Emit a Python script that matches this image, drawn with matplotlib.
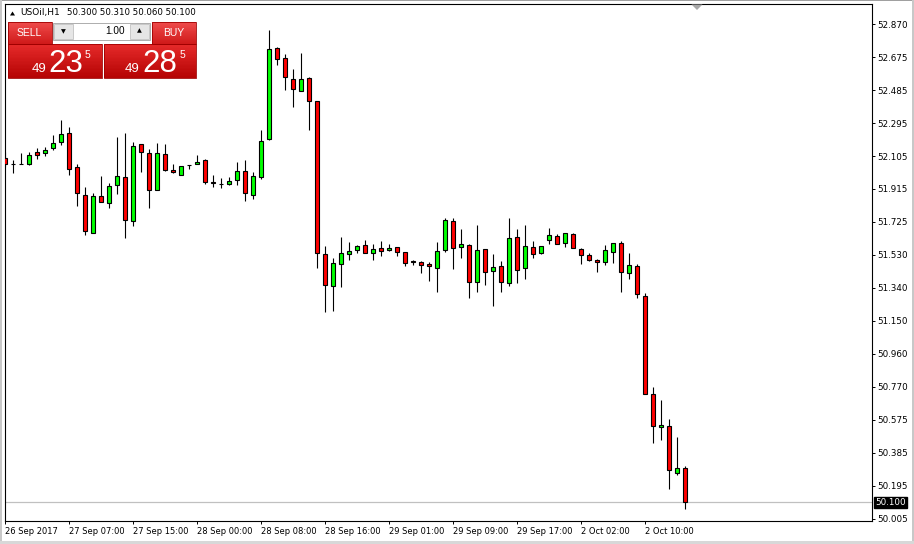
import numpy as np
import matplotlib.pyplot as plt
from matplotlib.patches import Rectangle, Polygon
from matplotlib.transforms import blended_transform_factory

# USOil H1 candles (open, high, low, close)
opens = [52.092, 52.058, 52.059, 52.061, 52.127, 52.121, 52.150, 52.185, 52.237, 52.040,
         51.878, 51.658, 51.872, 51.832, 51.936, 51.982, 51.728, 52.173, 52.121, 51.907,
         52.116, 52.026, 51.994, 52.052, 52.058, 52.081, 51.957, 51.944, 51.942, 51.965,
         52.017, 51.878, 51.982, 52.202, 52.729, 52.671, 52.550, 52.480, 52.556, 52.424,
         51.537, 51.351, 51.479, 51.537, 51.560, 51.589, 51.542, 51.571, 51.560, 51.577,
         51.548, 51.498, 51.490, 51.479, 51.455, 51.560, 51.728, 51.577, 51.589, 51.374,
         51.565, 51.438, 51.467, 51.369, 51.635, 51.455, 51.577, 51.542, 51.618, 51.641,
         51.600, 51.652, 51.565, 51.531, 51.502, 51.490, 51.548, 51.600, 51.426, 51.467,
         51.293, 50.729, 50.535, 50.541, 50.268, 50.300]
highs = [52.127, 52.083, 52.125, 52.127, 52.152, 52.156, 52.227, 52.314, 52.274, 52.059,
         51.926, 51.891, 51.990, 51.949, 52.216, 52.239, 52.185, 52.173, 52.146, 52.181,
         52.175, 52.059, 52.046, 52.052, 52.111, 52.087, 51.994, 51.977, 51.984, 52.071,
         52.083, 52.011, 52.256, 52.835, 52.735, 52.696, 52.609, 52.702, 52.562, 52.424,
         51.585, 51.513, 51.637, 51.608, 51.590, 51.618, 51.596, 51.612, 51.594, 51.577,
         51.548, 51.503, 51.496, 51.490, 51.606, 51.745, 51.745, 51.681, 51.594, 51.704,
         51.565, 51.537, 51.496, 51.745, 51.681, 51.704, 51.612, 51.583, 51.687, 51.652,
         51.658, 51.658, 51.571, 51.542, 51.507, 51.589, 51.600, 51.612, 51.542, 51.479,
         51.314, 50.766, 50.693, 50.581, 50.480, 50.310]
lows = [52.044, 52.009, 52.059, 52.055, 52.090, 52.104, 52.140, 52.169, 51.996, 51.818,
        51.650, 51.658, 51.838, 51.806, 51.886, 51.629, 51.702, 52.015, 51.806, 51.907,
        52.021, 52.006, 51.994, 52.032, 52.058, 51.945, 51.928, 51.922, 51.936, 51.936,
        51.843, 51.855, 51.971, 52.196, 52.634, 52.490, 52.391, 52.480, 52.258, 51.459,
        51.204, 51.210, 51.349, 51.502, 51.542, 51.542, 51.502, 51.525, 51.554, 51.525,
        51.467, 51.473, 51.426, 51.380, 51.316, 51.548, 51.450, 51.513, 51.282, 51.316,
        51.357, 51.235, 51.316, 51.351, 51.369, 51.392, 51.513, 51.537, 51.594, 51.594,
        51.577, 51.571, 51.479, 51.496, 51.432, 51.473, 51.484, 51.316, 51.392, 51.282,
        50.726, 50.446, 50.463, 50.179, 50.257, 50.060]
closes = [52.058, 52.057, 52.060, 52.111, 52.110, 52.139, 52.179, 52.231, 52.029, 51.890,
          51.670, 51.872, 51.838, 51.930, 51.988, 51.735, 52.162, 52.127, 51.907, 52.121,
          52.026, 52.015, 52.046, 52.051, 52.069, 51.957, 51.948, 51.943, 51.959, 52.017,
          51.890, 51.988, 52.191, 52.724, 52.666, 52.561, 52.492, 52.550, 52.422, 51.542,
          51.357, 51.484, 51.542, 51.554, 51.583, 51.542, 51.565, 51.554, 51.571, 51.548,
          51.484, 51.490, 51.473, 51.467, 51.554, 51.733, 51.571, 51.594, 51.374, 51.560,
          51.432, 51.461, 51.374, 51.629, 51.444, 51.583, 51.537, 51.583, 51.647, 51.594,
          51.658, 51.571, 51.531, 51.502, 51.490, 51.560, 51.600, 51.432, 51.473, 51.305,
          50.729, 50.541, 50.546, 50.286, 50.297, 50.100]

time_tick_bars = [0, 8, 16, 24, 32, 40, 48, 56, 64, 72, 80]
time_tick_labels = ['26 Sep 2017', '27 Sep 07:00', '27 Sep 15:00', '28 Sep 00:00',
                    '28 Sep 08:00', '28 Sep 16:00', '29 Sep 01:00', '29 Sep 09:00',
                    '29 Sep 17:00', '2 Oct 02:00', '2 Oct 10:00']
price_labels = ['52.870', '52.675', '52.485', '52.295', '52.105', '51.915', '51.725', '51.530',
                '51.340', '51.150', '50.960', '50.770', '50.575', '50.385', '50.195', '50.005']
price_ticks = 52.870 - np.arange(len(price_labels)) * 0.19107
last_price = 50.100

W, H = 914, 544
fig = plt.figure(figsize=(W / 100, H / 100), dpi=100)
fig.patch.set_facecolor('white')
ax = fig.add_axes([4.5 / W, 1 - 521 / H, (872 - 4.5) / W, (521 - 4) / H])

o = np.array(opens)
c = np.array(closes)
x = np.arange(len(o))
up = c >= o
colors = np.where(up, '#00ff00', '#ff0000')

ax.vlines(x, lows, highs, color='black', lw=0.8, zorder=2)
ax.bar(x, np.abs(c - o), bottom=np.minimum(o, c), width=0.5, color=colors,
       edgecolor='black', linewidth=0.8, zorder=3)

ax.axhline(last_price, color='#c0c0c0', lw=0.9, zorder=1)

ax.set_xlim(-0.1, 108.34)
ax.set_ylim(49.992, 52.986)

ax.yaxis.tick_right()
ax.set_yticks(price_ticks)
ax.set_yticklabels(price_labels)
ax.set_xticks(time_tick_bars)
ax.set_xticklabels(time_tick_labels)
plt.setp(ax.get_xticklabels(), ha='left')
ax.tick_params(axis='y', direction='out', length=2.3, width=0.7, pad=1.5, labelsize=6.3)
ax.tick_params(axis='x', direction='out', length=2.3, width=0.7, pad=2.0, labelsize=6.0)
for sp in ax.spines.values():
    sp.set_color('black')
    sp.set_linewidth(0.8)

tr = blended_transform_factory(ax.transAxes, ax.transData)
ax.text(1.004, last_price, '50.100', transform=tr, color='white', fontsize=6.3,
        va='center', ha='left',
        bbox=dict(boxstyle='square,pad=0.15', fc='black', ec='black'))


def fx(px):
    return px / W


def fy(py):
    return 1 - py / H


def box(x0, y0, x1, y1, **kw):
    fig.patches.append(Rectangle((fx(x0), fy(y1)), fx(x1) - fx(x0), fy(y0) - fy(y1),
                                 transform=fig.transFigure, **kw))


def grad_box(x0, y0, x1, y1, top, bottom, n=24):
    t = np.array(plt.matplotlib.colors.to_rgb(top))
    b = np.array(plt.matplotlib.colors.to_rgb(bottom))
    hh = (y1 - y0) / n
    for k in range(n):
        col = t + (b - t) * k / (n - 1)
        box(x0, y0 + k * hh, x1, y0 + (k + 1) * hh + 0.3, fc=col, ec='none', zorder=5)
    box(x0, y0, x1, y1, fc='none', ec='#a00000', lw=0.6, zorder=6)


# window frame
box(0, 0, 914, 1.2, fc='#a0a0a0', ec='none', zorder=1)
box(0, 0, 2.2, 544, fc='#c8c8c8', ec='none', zorder=1)
box(911.5, 0, 914, 544, fc='#c8c8c8', ec='none', zorder=1)
box(0, 541, 914, 544, fc='#d8d8d8', ec='none', zorder=1)

# chart shift marker
fig.patches.append(Polygon([(fx(691.5), fy(4.5)), (fx(702.5), fy(4.5)), (fx(697), fy(10))],
                           closed=True, transform=fig.transFigure, fc='#a8a8a8', ec='none', zorder=5))

# header
fig.patches.append(Polygon([(fx(10), fy(15.5)), (fx(15), fy(15.5)), (fx(12.5), fy(11.5))],
                           closed=True, transform=fig.transFigure, fc='black', ec='none', zorder=5))
fig.text(fx(20), fy(12.5), 'USOil,H1', fontsize=6.5, va='center', ha='left', zorder=7)
fig.text(fx(67), fy(12.5), '50.300 50.310 50.060 50.100', fontsize=6.2, va='center', ha='left', zorder=7)

# one click trading panel
grad_box(8, 22.5, 51.5, 44, '#ee4a4a', '#d01a1a')
grad_box(152, 22.5, 195.5, 44, '#ee4a4a', '#d01a1a')
box(12, 42.5, 48, 43.2, fc='#f49a9a', ec='none', zorder=7)
box(156, 42.5, 192, 43.2, fc='#f49a9a', ec='none', zorder=7)
fig.text(fx(29.5), fy(33), 'SELL', color='white', fontsize=7.5, family='Liberation Sans',
         ha='center', va='center', zorder=8)
fig.text(fx(173.5), fy(33), 'BUY', color='white', fontsize=7.5, family='Liberation Sans',
         ha='center', va='center', zorder=8)

box(53, 22.5, 150, 40, fc='white', ec='#a0a0a0', lw=0.6, zorder=5)
box(54, 23.5, 72.5, 39, fc='#e6e6e6', ec='#b8b8b8', lw=0.5, zorder=6)
box(130, 23.5, 149, 39, fc='#e6e6e6', ec='#b8b8b8', lw=0.5, zorder=6)
fig.text(fx(63.3), fy(31.5), '▼', fontsize=4.5, ha='center', va='center', zorder=8)
fig.text(fx(139.5), fy(31), '▲', fontsize=4.5, ha='center', va='center', zorder=8)
fig.text(fx(124.5), fy(31.5), '1.00', fontsize=7.2, family='Liberation Sans',
         ha='right', va='center', zorder=8)

grad_box(8, 44, 101.5, 77.5, '#e52a2a', '#b60404')
grad_box(103.5, 44, 195.5, 77.5, '#e52a2a', '#b60404')
for big, x_small, x_big, x_sup in [('23', 31.5, 48, 84.5), ('28', 124.5, 142.5, 179.5)]:
    fig.text(fx(x_small), fy(72), '49', color='white', fontsize=9.5, family='Liberation Sans',
             ha='left', va='baseline', zorder=8)
    fig.text(fx(x_big), fy(72.5), big, color='white', fontsize=22.5, family='Liberation Sans',
             ha='left', va='baseline', zorder=8)
    fig.text(fx(x_sup), fy(57.5), '5', color='white', fontsize=7.5, family='Liberation Sans',
             ha='left', va='baseline', zorder=8)

fig.savefig('out.png', dpi=100)
